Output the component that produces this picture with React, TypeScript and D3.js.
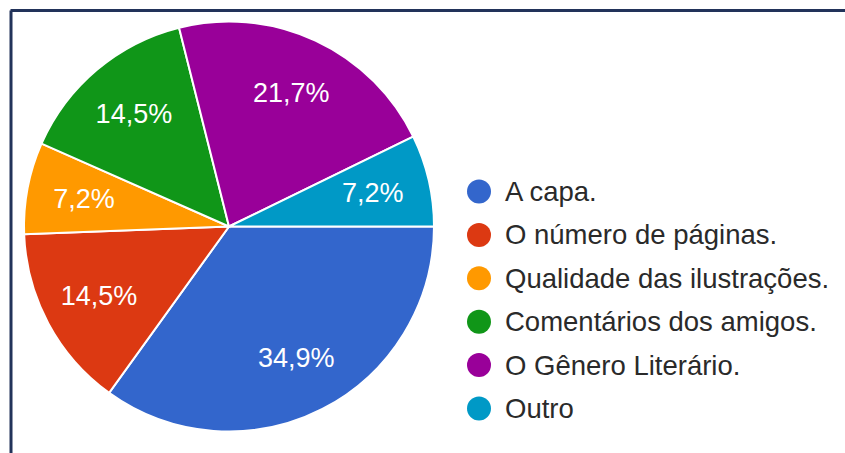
import React from "react";
import * as d3 from "d3";

const categories = [
  "A capa.",
  "O número de páginas.",
  "Qualidade das ilustrações.",
  "Comentários dos amigos.",
  "O Gênero Literário.",
  "Outro",
];
const counts = [29, 12, 6, 12, 18, 6];
const percentLabels = ["34,9%", "14,5%", "7,2%", "14,5%", "21,7%", "7,2%"];
const colors = ["#3366cc", "#dc3912", "#ff9900", "#109618", "#990099", "#0099c6"];

const W = 845;
const H = 453;
const cx = 229;
const cy = 226.5;
const R = 205;
const FONT = "'Liberation Sans', Arial, sans-serif";

export default function App() {
  const pie = d3
    .pie<number>()
    .sort(null)
    .startAngle(Math.PI / 2)
    .endAngle(Math.PI / 2 + 2 * Math.PI)
    .value((d) => d);
  const arcs = pie(counts);
  const arc = d3.arc<d3.PieArcDatum<number>>().innerRadius(0).outerRadius(R);
  const labelArc = d3
    .arc<d3.PieArcDatum<number>>()
    .innerRadius(R * 0.72)
    .outerRadius(R * 0.72);

  const legendY = d3
    .scalePoint<number>()
    .domain(d3.range(categories.length))
    .range([191.5, 408.5]);

  return (
    <svg
      width={W}
      height={H}
      style={{ position: "absolute", left: 0, top: 0, background: "#fff" }}
    >
      <rect x={0} y={0} width={W} height={H} fill="#fff" />
      <g transform={`translate(${cx},${cy})`}>
        {arcs.map((a, i) => (
          <path
            key={i}
            d={arc(a) || ""}
            fill={colors[i]}
            stroke="#fff"
            strokeWidth={2}
          />
        ))}
        {arcs.map((a, i) => {
          const [x, y] = labelArc.centroid(a);
          return (
            <text
              key={i}
              x={x}
              y={y}
              fill="#fff"
              fontFamily={FONT}
              fontSize={27}
              textAnchor="middle"
              dominantBaseline="central"
            >
              {percentLabels[i]}
            </text>
          );
        })}
      </g>
      <g>
        {categories.map((c, i) => (
          <g key={i} transform={`translate(479,${legendY(i)})`}>
            <circle r={12} fill={colors[i]} />
            <text
              x={26}
              y={0}
              fill="#2a2a2a"
              fontFamily={FONT}
              fontSize={27.5}
              dominantBaseline="central"
            >
              {c}
            </text>
          </g>
        ))}
      </g>
      <line x1={10.5} y1={10.5} x2={W} y2={10.5} stroke="#22335a" strokeWidth={3} />
      <line x1={11} y1={10.5} x2={11} y2={H} stroke="#22335a" strokeWidth={3} />
    </svg>
  );
}
